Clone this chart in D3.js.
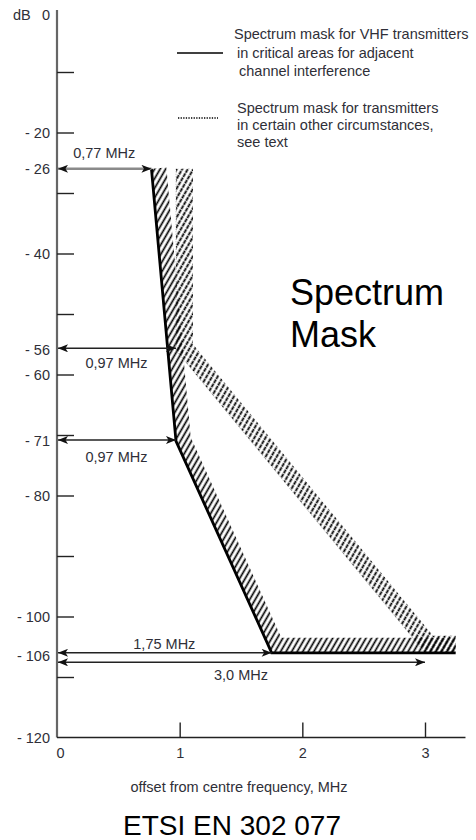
<!DOCTYPE html>
<html>
<head>
<meta charset="utf-8">
<script src="https://cdn.jsdelivr.net/npm/d3@7"></script>
<style>
  html, body { margin: 0; padding: 0; background: #fff; }
  svg { display: block; font-family: "Liberation Sans", Arial, sans-serif; }
</style>
</head>
<body>
<svg id="chart" width="476" height="840"></svg>
<script>
// Spectrum mask break points: [offset MHz, level dB]
const criticalMaskMHz = [0.77, 0.97, 1.75, 3.25];
const criticalMaskDb  = [-26, -71, -106, -106];
const otherMaskMHz    = [0.97, 0.97, 3.0, 3.25];
const otherMaskDb     = [-26, -56, -106, -106];

// Dimension arrows
const arrowMHz    = [0.77, 0.97, 0.97, 1.75, 3.0];
const arrowDb     = [-26, -56, -71, -106, -106];
const arrowLabels = ["0,77 MHz", "0,97 MHz", "0,97 MHz", "1,75 MHz", "3,0 MHz"];

// Axis ticks
const yTickMarks  = [-10, -20, -30, -40, -50, -60, -70, -80, -90, -100, -110];
const yTickLabels = [0, -20, -26, -40, -56, -60, -71, -80, -100, -106, -120];
const xTickValues = [0, 1, 2, 3];

const legendSolid  = ["Spectrum mask for VHF transmitters", "in critical areas for adjacent", "channel interference"];
const legendDotted = ["Spectrum mask for transmitters", "in certain other circumstances,", "see text"];

const svg = d3.select("#chart");
const textColor = "#2f2f38";

const x = d3.scaleLinear().domain([0, 3]).range([57, 425]);
const y = d3.scaleLinear().domain([0, -120]).range([11.5, 737.5]);

// ---- hatch patterns ----
const defs = svg.append("defs");
function hatch(id, color, width, dash) {
  const p = defs.append("pattern")
    .attr("id", id)
    .attr("patternUnits", "userSpaceOnUse")
    .attr("width", 4.8).attr("height", 4.8)
    .attr("patternTransform", "rotate(30)");
  p.append("line")
    .attr("x1", 2.4).attr("y1", -1).attr("x2", 2.4).attr("y2", 5.8)
    .attr("stroke", color).attr("stroke-width", width)
    .attr("stroke-dasharray", dash);
}
hatch("hatchCritical", "#000", 1.7, null);
hatch("hatchOther", "#000", 1.8, "5,0.8");

// arrow head
defs.append("marker")
  .attr("id", "arrowHead")
  .attr("viewBox", "0 0 10 8")
  .attr("refX", 10).attr("refY", 4)
  .attr("markerWidth", 11).attr("markerHeight", 8)
  .attr("markerUnits", "userSpaceOnUse")
  .attr("orient", "auto-start-reverse")
  .append("path")
  .attr("d", "M0,0 L10,4 L0,8 L2.5,4 Z")
  .attr("fill", "#111");

// ---- hatched bands: polygon between the mask line and its offset on the stop-band side ----
function bandPolygon(pts, d) {
  const normals = [];
  for (let i = 0; i < pts.length - 1; i++) {
    const dx = pts[i + 1][0] - pts[i][0], dy = pts[i + 1][1] - pts[i][1];
    const L = Math.hypot(dx, dy);
    normals.push([dy / L, -dx / L]);
  }
  const off = pts.map((p, i) => {
    if (i === 0) return [p[0] + d * normals[0][0], p[1] + d * normals[0][1]];
    if (i === pts.length - 1) {
      const n = normals[normals.length - 1];
      return [p[0] + d * n[0], p[1] + d * n[1]];
    }
    const a = normals[i - 1], b = normals[i];
    const k = d / (1 + a[0] * b[0] + a[1] * b[1]);
    return [p[0] + k * (a[0] + b[0]), p[1] + k * (a[1] + b[1])];
  });
  return pts.concat(off.reverse());
}

const critPts  = criticalMaskMHz.map((f, i) => [x(f), y(criticalMaskDb[i])]);
const otherPts = otherMaskMHz.map((f, i) => [x(f), y(otherMaskDb[i])]);

svg.append("polygon")
  .attr("points", bandPolygon(otherPts, 17).map(p => p.join(",")).join(" "))
  .attr("fill", "url(#hatchOther)");
svg.append("polygon")
  .attr("points", bandPolygon(critPts, 15).map(p => p.join(",")).join(" "))
  .attr("fill", "url(#hatchCritical)");

const line = d3.line();
svg.append("path")
  .attr("d", line(otherPts))
  .attr("fill", "none").attr("stroke", "#777").attr("stroke-width", 1)
  .attr("stroke-dasharray", "1,1.5").attr("opacity", 0.5);
svg.append("path")
  .attr("d", line(critPts))
  .attr("fill", "none").attr("stroke", "#000").attr("stroke-width", 2.8)
  .attr("stroke-linejoin", "miter");

// ---- axes ----
svg.append("line")
  .attr("x1", x(0)).attr("x2", x(0)).attr("y1", 10).attr("y2", y(-120))
  .attr("stroke", "#666").attr("stroke-width", 2.2);

// inward tick marks
const yTicks = svg.append("g").attr("transform", `translate(${x(0)},0)`)
  .call(d3.axisRight(y).tickValues(yTickMarks).tickSize(17).tickFormat(""));
yTicks.select(".domain").remove();
yTicks.selectAll("line").attr("stroke", "#222").attr("stroke-width", 1.4);

// level labels
const yLab = svg.append("g").attr("transform", `translate(${x(0)},0)`)
  .call(d3.axisLeft(y).tickValues(yTickLabels).tickSize(0).tickPadding(7)
    .tickFormat(d => d === 0 ? "0" : "- " + Math.abs(d)));
yLab.select(".domain").remove();
yLab.selectAll("text")
  .attr("font-family", "Liberation Sans, Arial, sans-serif")
  .attr("font-size", 14.5).attr("fill", textColor)
  .attr("y", d => d === 0 ? 3.5 : (d === -106 ? 3.5 : 0));

svg.append("text").attr("x", 13).attr("y", 20)
  .attr("font-size", 14.5).attr("fill", textColor).text("dB");

// x axis
svg.append("line")
  .attr("x1", x(0)).attr("x2", x(3.33)).attr("y1", y(-120)).attr("y2", y(-120))
  .attr("stroke", "#222").attr("stroke-width", 1.5);
const xAx = svg.append("g").attr("transform", `translate(0,${y(-120)})`)
  .call(d3.axisBottom(x).tickValues(xTickValues).tickSizeInner(-15).tickSizeOuter(0).tickPadding(10)
    .tickFormat(d3.format("d")));
xAx.select(".domain").remove();
xAx.selectAll(".tick line").attr("stroke", "#222").attr("stroke-width", 1.4)
  .attr("display", d => d === 0 ? "none" : null);
xAx.selectAll("text")
  .attr("font-family", "Liberation Sans, Arial, sans-serif")
  .attr("font-size", 14.5).attr("fill", textColor)
  .attr("dx", d => d === 0 ? 3 : 0);

svg.append("text").attr("x", 239).attr("y", 792).attr("text-anchor", "middle")
  .attr("font-size", 14.5).attr("fill", textColor)
  .text("offset from centre frequency, MHz");

// ---- dimension arrows ----
// vertical shift of the shaft from the level line and label offset from the shaft
const arrowShift = [0, -2, -1, 0, 9.5];
const labelOffset = [-16, 15, 17, -9, 13];
arrowMHz.forEach((f, i) => {
  const yy = y(arrowDb[i]) + arrowShift[i];
  const gray = i === 0;
  svg.append("line")
    .attr("x1", x(0) + 1).attr("x2", x(f)).attr("y1", yy).attr("y2", yy)
    .attr("stroke", gray ? "#8a8a8a" : "#222")
    .attr("stroke-width", gray ? 2.4 : 1.6)
    .attr("marker-start", "url(#arrowHead)")
    .attr("marker-end", "url(#arrowHead)");
  svg.append("text")
    .attr("x", (x(0) + x(f)) / 2).attr("y", yy + labelOffset[i])
    .attr("dy", "0.35em").attr("text-anchor", "middle")
    .attr("font-size", 14.5).attr("fill", textColor)
    .text(arrowLabels[i]);
});

// ---- legend ----
svg.append("line").attr("x1", 177).attr("x2", 223).attr("y1", 53).attr("y2", 53)
  .attr("stroke", "#000").attr("stroke-width", 1.5);
svg.append("line").attr("x1", 178).attr("x2", 218).attr("y1", 118).attr("y2", 118)
  .attr("stroke", "#000").attr("stroke-width", 1.5).attr("stroke-dasharray", "1.3,1.3");

const legX1 = [234, 237, 239];
legendSolid.forEach((t, i) => {
  svg.append("text").attr("x", legX1[i]).attr("y", 34 + i * 18.5).attr("dy", "0.35em")
    .attr("font-size", 14.5).attr("fill", textColor).text(t);
});
legendDotted.forEach((t, i) => {
  svg.append("text").attr("x", 237).attr("y", 108 + i * 17).attr("dy", "0.35em")
    .attr("font-size", 14.5).attr("fill", textColor).text(t);
});

// ---- titles ----
svg.append("text").attr("x", 290).attr("y", 305)
  .attr("font-size", 36).attr("fill", "#000").text("Spectrum");
svg.append("text").attr("x", 290).attr("y", 347)
  .attr("font-size", 36).attr("fill", "#000").text("Mask");

svg.append("text").attr("x", 232).attr("y", 835).attr("text-anchor", "middle")
  .attr("font-size", 28).attr("fill", "#000").text("ETSI EN 302 077");
</script>
</body>
</html>
